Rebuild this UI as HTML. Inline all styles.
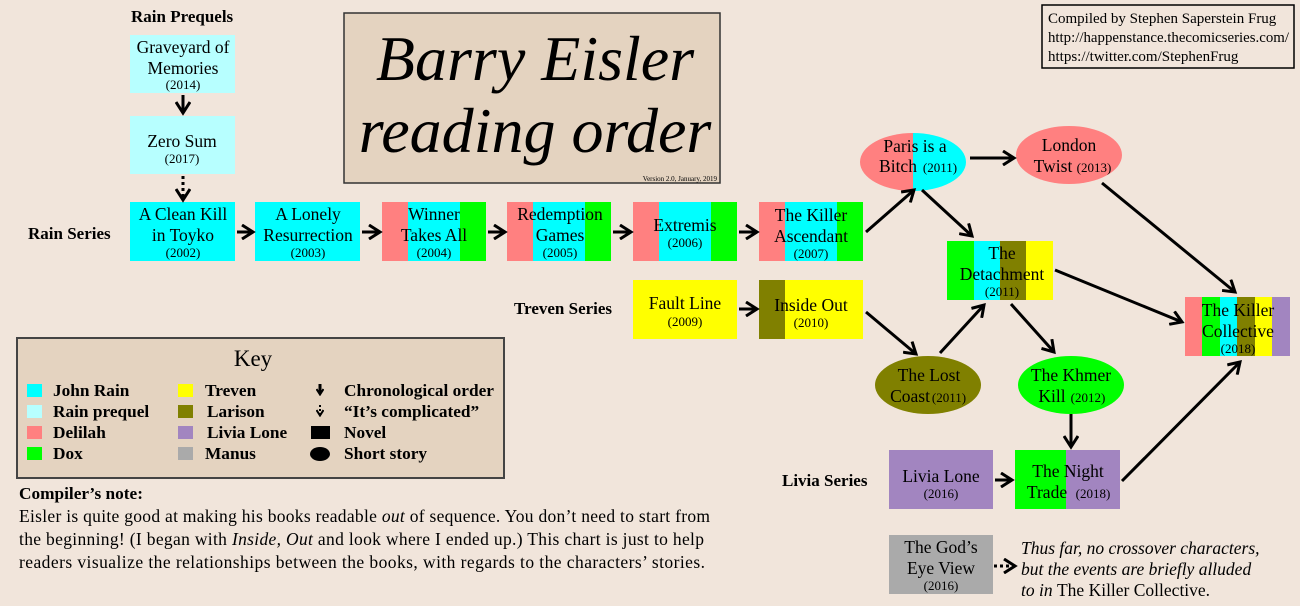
<!DOCTYPE html>
<html><head><meta charset="utf-8"><style>
html,body{margin:0;padding:0;background:#f1e5db;}
svg{display:block;font-family:"Liberation Serif",serif;}
</style></head><body>
<svg width="1300" height="606" viewBox="0 0 1300 606" xmlns="http://www.w3.org/2000/svg">
<defs>
<marker id="a" markerWidth="8" markerHeight="8" refX="6" refY="4" orient="auto" markerUnits="userSpaceOnUse" viewBox="0 0 8 8">
<path d="M1,0.5 L6.5,4 L1,7.5" fill="none" stroke="#000" stroke-width="2"/></marker>
<marker id="b" markerWidth="16" markerHeight="16" refX="13" refY="8" orient="auto" markerUnits="userSpaceOnUse" viewBox="0 0 16 16">
<path d="M2,1 L13,8 L2,15" fill="none" stroke="#000" stroke-width="3"/></marker>
<clipPath id="cp"><ellipse cx="913" cy="162" rx="53" ry="29"/></clipPath>
</defs>
<rect width="1300" height="606" fill="#f1e5db"/>

<!-- title -->
<rect x="344" y="13" width="376" height="170" fill="#e4d3c0" stroke="#333" stroke-width="1.5"/>
<text x="535" y="80" text-anchor="middle" font-size="64" font-style="italic">Barry Eisler</text>
<text x="535" y="152" text-anchor="middle" font-size="64" font-style="italic">reading order</text>
<text x="717" y="181" text-anchor="end" font-size="7">Version 2.0, January, 2019</text>

<!-- credit -->
<rect x="1042" y="5" width="252" height="63" fill="#f1e5db" stroke="#000" stroke-width="1.5"/>
<text x="1048" y="23" font-size="15">Compiled by Stephen Saperstein Frug</text>
<text x="1048" y="42" font-size="15" textLength="241" lengthAdjust="spacingAndGlyphs">http://happenstance.thecomicseries.com/</text>
<text x="1048" y="61" font-size="15">https://twitter.com/StephenFrug</text>

<!-- labels -->
<g font-weight="bold" font-size="17">
<text x="131" y="22">Rain Prequels</text>
<text x="28" y="239">Rain Series</text>
<text x="514" y="314">Treven Series</text>
<text x="782" y="486">Livia Series</text>
</g>

<!-- boxes -->
<g font-size="17.5" text-anchor="middle">
<rect x="130" y="35" width="105" height="58" fill="#b7ffff"/>
<text x="183" y="53">Graveyard of</text><text x="183" y="74">Memories</text><text x="183" y="89" font-size="13">(2014)</text>
<rect x="130" y="116" width="105" height="58" fill="#b7ffff"/>
<text x="182" y="147">Zero Sum</text><text x="182" y="163" font-size="13">(2017)</text>

<rect x="130" y="202" width="105" height="59" fill="#00ffff"/>
<text x="183" y="220">A Clean Kill</text><text x="183" y="241">in Toyko</text><text x="183" y="257" font-size="13">(2002)</text>
<rect x="255" y="202" width="105" height="59" fill="#00ffff"/>
<text x="308" y="220">A Lonely</text><text x="308" y="241">Resurrection</text><text x="308" y="257" font-size="13">(2003)</text>

<rect x="382" y="202" width="26" height="59" fill="#ff8080"/><rect x="408" y="202" width="52" height="59" fill="#00ffff"/><rect x="460" y="202" width="26" height="59" fill="#00ff00"/>
<text x="434" y="220">Winner</text><text x="434" y="241">Takes All</text><text x="434" y="257" font-size="13">(2004)</text>
<rect x="507" y="202" width="26" height="59" fill="#ff8080"/><rect x="533" y="202" width="52" height="59" fill="#00ffff"/><rect x="585" y="202" width="26" height="59" fill="#00ff00"/>
<text x="560" y="220">Redemption</text><text x="560" y="241">Games</text><text x="560" y="257" font-size="13">(2005)</text>
<rect x="633" y="202" width="26" height="59" fill="#ff8080"/><rect x="659" y="202" width="52" height="59" fill="#00ffff"/><rect x="711" y="202" width="26" height="59" fill="#00ff00"/>
<text x="685" y="231">Extremis</text><text x="685" y="247" font-size="13">(2006)</text>
<rect x="759" y="202" width="26" height="59" fill="#ff8080"/><rect x="785" y="202" width="52" height="59" fill="#00ffff"/><rect x="837" y="202" width="26" height="59" fill="#00ff00"/>
<text x="811" y="221">The Killer</text><text x="811" y="242">Ascendant</text><text x="811" y="258" font-size="13">(2007)</text>

<rect x="633" y="280" width="104" height="59" fill="#ffff00"/>
<text x="685" y="309">Fault Line</text><text x="685" y="326" font-size="13">(2009)</text>
<rect x="759" y="280" width="26" height="59" fill="#808000"/><rect x="785" y="280" width="78" height="59" fill="#ffff00"/>
<text x="811" y="311">Inside Out</text><text x="811" y="327" font-size="13">(2010)</text>

<g clip-path="url(#cp)"><rect x="860" y="130" width="53" height="70" fill="#ff8080"/><rect x="913" y="130" width="53" height="70" fill="#00ffff"/></g>
<text x="915" y="152">Paris is a</text><text x="898" y="172">Bitch</text><text x="940" y="172" font-size="13">(2011)</text>
<ellipse cx="1069" cy="155" rx="53" ry="29" fill="#ff8080"/>
<text x="1069" y="151">London</text><text x="1053" y="172">Twist</text><text x="1094" y="172" font-size="13">(2013)</text>

<rect x="947" y="241" width="27" height="59" fill="#00ff00"/><rect x="974" y="241" width="26" height="59" fill="#00ffff"/><rect x="1000" y="241" width="26" height="59" fill="#808000"/><rect x="1026" y="241" width="27" height="59" fill="#ffff00"/>
<text x="1002" y="259">The</text><text x="1002" y="280">Detachment</text><text x="1002" y="296" font-size="13">(2011)</text>

<rect x="1185" y="297" width="17" height="59" fill="#ff8080"/><rect x="1202" y="297" width="18" height="59" fill="#00ff00"/><rect x="1220" y="297" width="17" height="59" fill="#00ffff"/><rect x="1237" y="297" width="18" height="59" fill="#808000"/><rect x="1255" y="297" width="17" height="59" fill="#ffff00"/><rect x="1272" y="297" width="18" height="59" fill="#a285c0"/>
<text x="1238" y="316">The Killer</text><text x="1238" y="337">Collective</text><text x="1238" y="353" font-size="13">(2018)</text>

<ellipse cx="928" cy="385" rx="53" ry="29" fill="#808000"/>
<text x="929" y="381">The Lost</text><text x="910" y="402">Coast</text><text x="949" y="402" font-size="13">(2011)</text>
<ellipse cx="1071" cy="385" rx="53" ry="29" fill="#00ff00"/>
<text x="1071" y="381">The Khmer</text><text x="1052" y="402">Kill</text><text x="1088" y="402" font-size="13">(2012)</text>

<rect x="889" y="450" width="104" height="59" fill="#a285c0"/>
<text x="941" y="482">Livia Lone</text><text x="941" y="498" font-size="13">(2016)</text>
<rect x="1015" y="450" width="51" height="59" fill="#00ff00"/><rect x="1066" y="450" width="54" height="59" fill="#a285c0"/>
<text x="1068" y="477">The Night</text><text x="1047" y="498">Trade</text><text x="1093" y="498" font-size="13">(2018)</text>

<rect x="889" y="535" width="104" height="59" fill="#aaaaaa"/>
<text x="941" y="553">The God’s</text><text x="941" y="574">Eye View</text><text x="941" y="590" font-size="13">(2016)</text>
</g>

<text x="1021" y="554" font-size="17.5" font-style="italic">Thus far, no crossover characters,</text>
<text x="1021" y="575" font-size="17.5" font-style="italic">but the events are briefly alluded</text>
<text x="1021" y="596" font-size="17.5"><tspan font-style="italic">to in </tspan>The Killer Collective.</text>

<!-- arrows -->
<g stroke="#000" stroke-width="3" fill="none" marker-end="url(#b)">
<line x1="183" y1="95" x2="183" y2="113"/>
<line x1="183" y1="176" x2="183" y2="200" stroke-dasharray="3,3"/>
<line x1="237" y1="232" x2="253" y2="232"/>
<line x1="362" y1="232" x2="380" y2="232"/>
<line x1="488" y1="232" x2="505" y2="232"/>
<line x1="613" y1="232" x2="631" y2="232"/>
<line x1="739" y1="232" x2="757" y2="232"/>
<line x1="739" y1="309" x2="757" y2="309"/>
<line x1="866" y1="232" x2="914" y2="190"/>
<line x1="922" y1="190" x2="972" y2="236"/>
<line x1="970" y1="158" x2="1014" y2="158"/>
<line x1="1102" y1="183" x2="1235" y2="292"/>
<line x1="1055" y1="270" x2="1182" y2="322"/>
<line x1="866" y1="312" x2="916" y2="354"/>
<line x1="940" y1="353" x2="984" y2="305"/>
<line x1="1011" y1="304" x2="1054" y2="352"/>
<line x1="1071" y1="414" x2="1071" y2="447"/>
<line x1="995" y1="480" x2="1012" y2="480"/>
<line x1="1122" y1="481" x2="1240" y2="362"/>
<line x1="994" y1="566" x2="1015" y2="566" stroke-dasharray="3,3"/>
</g>

<!-- key -->
<rect x="17" y="338" width="487" height="140" fill="#e4d3c0" stroke="#444" stroke-width="2"/>
<text x="253" y="366" text-anchor="middle" font-size="23">Key</text>
<g font-weight="bold" font-size="17.3">
<rect x="27" y="384" width="15" height="13" fill="#00ffff"/><text x="53" y="396">John Rain</text>
<rect x="27" y="405" width="15" height="13" fill="#b7ffff"/><text x="53" y="417">Rain prequel</text>
<rect x="27" y="426" width="15" height="13" fill="#ff8080"/><text x="53" y="438">Delilah</text>
<rect x="27" y="447" width="15" height="13" fill="#00ff00"/><text x="53" y="459">Dox</text>
<rect x="178" y="384" width="15" height="13" fill="#ffff00"/><text x="205" y="396">Treven</text>
<rect x="178" y="405" width="15" height="13" fill="#808000"/><text x="207" y="417">Larison</text>
<rect x="178" y="426" width="15" height="13" fill="#a285c0"/><text x="207" y="438">Livia Lone</text>
<rect x="178" y="447" width="15" height="13" fill="#aaaaaa"/><text x="205" y="459">Manus</text>
<text x="344" y="396">Chronological order</text>
<text x="344" y="417">“It’s complicated”</text>
<text x="344" y="438">Novel</text>
<text x="344" y="459">Short story</text>
</g>
<line x1="320" y1="384" x2="320" y2="394" stroke="#000" stroke-width="3" marker-end="url(#a)"/>
<line x1="320" y1="405" x2="320" y2="415" stroke="#000" stroke-width="2" stroke-dasharray="2,2" marker-end="url(#a)"/>
<rect x="311" y="426" width="19" height="13" fill="#000"/>
<ellipse cx="320" cy="454" rx="10" ry="7" fill="#000"/>

<!-- note -->
<text x="19" y="499" font-size="17.3" font-weight="bold">Compiler’s note:</text>
<g font-size="17.5">
<text x="19" y="522" textLength="691" lengthAdjust="spacing">Eisler is quite good at making his books readable <tspan font-style="italic">out</tspan> of sequence. You don’t need to start from</text>
<text x="19" y="545" textLength="685" lengthAdjust="spacing">the beginning! (I began with <tspan font-style="italic">Inside, Out</tspan> and look where I ended up.) This chart is just to help</text>
<text x="19" y="568" textLength="686" lengthAdjust="spacing">readers visualize the relationships between the books, with regards to the characters’ stories.</text>
</g>
</svg>
</body></html>
